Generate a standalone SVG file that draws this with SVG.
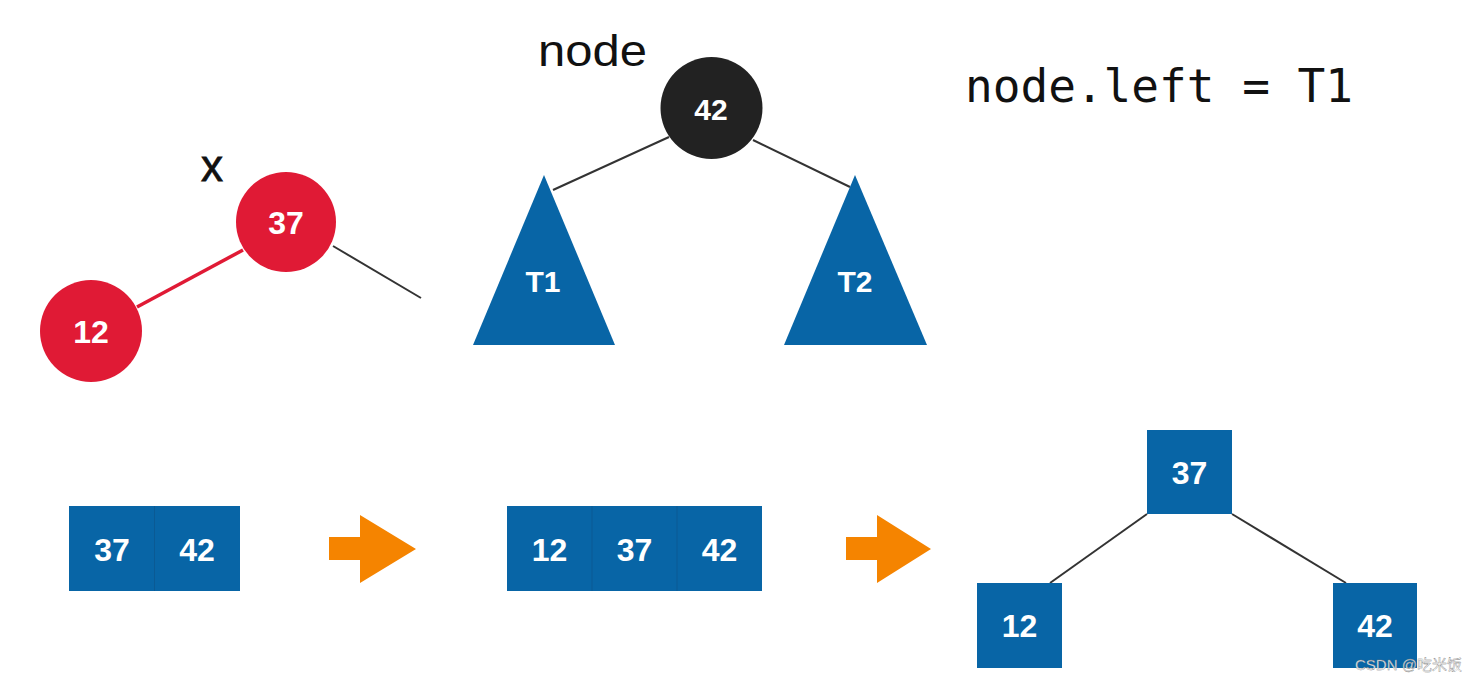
<svg xmlns="http://www.w3.org/2000/svg" width="1471" height="682" viewBox="0 0 1471 682">
<style>
.lbl{font-family:"Liberation Sans",Arial,sans-serif;font-weight:bold;fill:#fff;text-anchor:middle;font-size:32px}
.red{fill:#e01a35}
.blue{fill:#0865a6}
.edge{stroke:#333;stroke-width:2;fill:none}
.arrow{fill:#f58400}
</style>
<rect width="1471" height="682" fill="#fff"/>
<g id="connectors">
  <line x1="137" y1="307" x2="243" y2="250" stroke="#e01a35" stroke-width="3.5"/>
  <line class="edge" x1="333" y1="246" x2="421" y2="298"/>
  <line class="edge" x1="669" y1="137" x2="553" y2="190"/>
  <line class="edge" x1="753" y1="140" x2="850" y2="187"/>
  <line class="edge" x1="1147" y1="514" x2="1050" y2="583"/>
  <line class="edge" x1="1232" y1="514" x2="1346" y2="583"/>
</g>
<g id="label-x"><text x="212" y="181" font-family="'Liberation Sans',Arial,sans-serif" font-size="44" fill="#111" stroke="#111" stroke-width="0.8" text-anchor="middle">x</text></g>
<g id="label-node"><text x="538" y="66" font-family="'Liberation Sans',Arial,sans-serif" font-size="44" fill="#111" textLength="109" lengthAdjust="spacingAndGlyphs">node</text></g>
<g id="code"><text x="965" y="102" font-family="'DejaVu Sans Mono','Liberation Mono',monospace" font-size="46" fill="#111" textLength="388" lengthAdjust="spacingAndGlyphs">node.left = T1</text></g>
<g id="n37r"><circle class="red" cx="286" cy="222" r="50"/><text class="lbl" x="286" y="234">37</text></g>
<g id="n12r"><circle class="red" cx="91" cy="331" r="51"/><text class="lbl" x="91" y="343">12</text></g>
<g id="n42"><circle fill="#222" cx="711.5" cy="108" r="51"/><text class="lbl" x="711" y="120" style="font-size:30px">42</text></g>
<g id="t1"><polygon class="blue" points="544,175 615,345 473,345"/><text class="lbl" x="543" y="292" style="font-size:30px">T1</text></g>
<g id="t2"><polygon class="blue" points="855,175 927,345 784,345"/><text class="lbl" x="855" y="292" style="font-size:30px">T2</text></g>
<g id="arr1">
  <rect class="blue" x="69" y="506" width="171" height="85"/>
  <line x1="154.5" y1="506" x2="154.5" y2="591" stroke="#0a5a94" stroke-width="1"/>
  <text class="lbl" x="112" y="561">37</text>
  <text class="lbl" x="197" y="561">42</text>
</g>
<g id="arrow1"><polygon class="arrow" points="329,537 360,537 360,515 416,549 360,583 360,560 329,560"/></g>
<g id="arr2">
  <rect class="blue" x="507" y="506" width="255" height="85"/>
  <line x1="592" y1="506" x2="592" y2="591" stroke="#0a5a94" stroke-width="1"/>
  <line x1="677" y1="506" x2="677" y2="591" stroke="#0a5a94" stroke-width="1"/>
  <text class="lbl" x="549.5" y="561">12</text>
  <text class="lbl" x="634.5" y="561">37</text>
  <text class="lbl" x="719.5" y="561">42</text>
</g>
<g id="arrow2"><polygon class="arrow" points="846,537 877,537 877,515 931,549 877,583 877,560 846,560"/></g>
<g id="b37"><rect class="blue" x="1147" y="430" width="85" height="84"/><text class="lbl" x="1189.5" y="484">37</text></g>
<g id="b12"><rect class="blue" x="977" y="583" width="85" height="85"/><text class="lbl" x="1019.5" y="637">12</text></g>
<g id="b42"><rect class="blue" x="1333" y="583" width="84" height="85"/><text class="lbl" x="1375" y="637">42</text></g>
<g id="watermark"><text x="1355" y="670" font-family="'Liberation Sans','Noto Sans CJK SC',sans-serif" font-size="15" fill="#fff" fill-opacity="0.9" stroke="#777" stroke-width="0.35">CSDN @吃米饭</text></g>
</svg>
